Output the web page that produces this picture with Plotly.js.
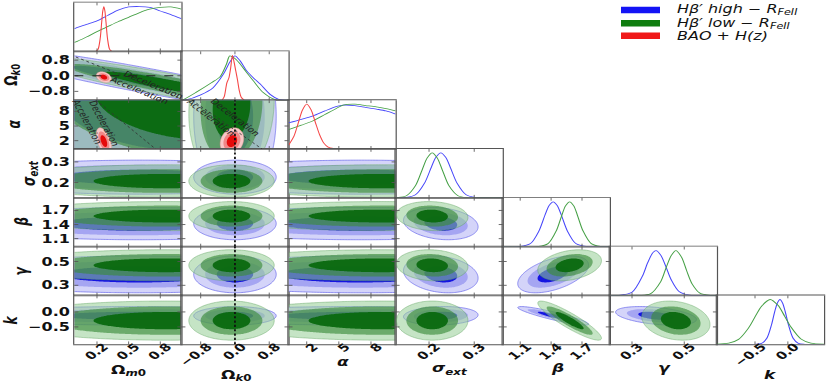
<!DOCTYPE html>
<html><head><meta charset="utf-8">
<script src="https://cdn.plot.ly/plotly-3.0.1.min.js"></script>
<style>
html,body{margin:0;padding:0;overflow:hidden;background:#fff;}
#plot{width:831px;height:531px;transform-origin:0 0;}
</style></head><body><div id="plot"></div>
<script>
// ---------------- data ----------------
const paramNames = ['Ω<sub><i>m</i>0</sub>', 'Ω<sub><i>k</i>0</sub>', '<i>α</i>', '<i>σ</i><sub><i>ext</i></sub>', '<i>β</i>', '<i>γ</i>', '<i>k</i>'];
const axisRanges = [[-0.015, 1.0], [-1.25, 1.25], [0.3, 10.3], [0.126, 0.363], [0.93, 1.97], [0.215, 0.625], [-1.08, 0.55]];
const tickVals = [[0.2, 0.5, 0.8], [-0.8, 0.0, 0.8], [2, 5, 8], [0.2, 0.3], [1.1, 1.4, 1.7], [0.3, 0.5], [-0.5, 0.0]];
const tickText = [['0.2', '0.5', '0.8'], ['−0.8', '0.0', '0.8'], ['2', '5', '8'], ['0.2', '0.3'], ['1.1', '1.4', '1.7'], ['0.3', '0.5'], ['−0.5', '0.0']];
const seriesNames = ['<i>Hβ′ high − R<sub>FeII</sub></i>', '<i>Hβ′ low − R<sub>FeII</sub></i>', '<i>BAO + H(z)</i>'];

// 1D marginals (normalised to peak = 1)
const om_x = [-0.015, 0, 0.1, 0.2, 0.3, 0.4, 0.5, 0.6, 0.7, 0.8, 0.9, 1.0];
const om_blue = [0.51, 0.52, 0.6, 0.68, 0.8, 0.92, 0.99, 1.0, 0.98, 0.9, 0.82, 0.73];
const om_green = [0.2, 0.21, 0.32, 0.44, 0.55, 0.66, 0.76, 0.86, 0.94, 0.98, 0.99, 0.94];
const om_red_x = [0.19, 0.21, 0.23, 0.245, 0.255, 0.265, 0.275, 0.285, 0.30, 0.32, 0.34];
const om_red = [0.003, 0.044, 0.28, 0.66, 0.9, 1.0, 0.9, 0.66, 0.28, 0.044, 0.003];

const ok_x_blue = [-1.25, -1.13, -0.8, -0.51, -0.27, -0.12, 0.0, 0.12, 0.27, 0.45, 0.59, 0.82, 1.02, 1.25];
const ok_blue = [0, 0.01, 0.12, 0.28, 0.58, 0.85, 0.99, 0.88, 0.66, 0.48, 0.36, 0.13, 0.02, 0];
const ok_x_green = [-1.25, -1.21, -0.9, -0.55, -0.35, -0.2, -0.12, 0.0, 0.12, 0.27, 0.43, 0.66, 0.94, 1.25];
const ok_green = [0, 0.01, 0.18, 0.39, 0.52, 0.8, 0.99, 0.93, 0.81, 0.62, 0.43, 0.17, 0.01, 0];
const ok_x_red = [-0.3, -0.25, -0.19, -0.14, -0.1, -0.06, -0.02, 0.02, 0.06, 0.1, 0.15, 0.22];
const ok_red = [0, 0.08, 0.38, 0.5, 0.72, 1.0, 0.85, 0.65, 0.45, 0.22, 0.06, 0];

const al_x = [0.3, 1.5, 2.6, 3.7, 4.8, 5.4, 6.5, 7.5, 8.5, 9.4, 10.3];
const al_blue = [0.58, 0.66, 0.74, 0.85, 0.95, 0.98, 0.97, 0.93, 0.89, 0.85, 0.78];
const al_green = [0.43, 0.53, 0.63, 0.77, 0.91, 0.98, 1.0, 0.97, 0.94, 0.9, 0.85];
const al_red_x = [0.3, 0.8, 1.2, 1.6, 2.0, 2.4, 2.8, 3.2, 3.6, 4.0, 4.5, 5.0];
const al_red = [0.08, 0.28, 0.57, 0.87, 1.0, 0.88, 0.6, 0.32, 0.13, 0.04, 0.01, 0];

const sg_x_blue = [0.126, 0.15, 0.17, 0.19, 0.205, 0.215, 0.226, 0.237, 0.247, 0.262, 0.282, 0.302, 0.33, 0.363];
const sg_blue = [0, 0.007, 0.066, 0.325, 0.68, 0.9, 1, 0.9, 0.68, 0.325, 0.066, 0.007, 0, 0];
const sg_x_green = [0.126, 0.13, 0.15, 0.17, 0.185, 0.196, 0.207, 0.218, 0.229, 0.244, 0.264, 0.284, 0.31, 0.363];
const sg_green = [0.001, 0.004, 0.046, 0.27, 0.63, 0.89, 1, 0.89, 0.63, 0.27, 0.046, 0.004, 0, 0];

const be_x_blue = [0.93, 1.1, 1.2, 1.28, 1.34, 1.38, 1.42, 1.46, 1.5, 1.56, 1.64, 1.74, 1.85, 1.97];
const be_blue = [0, 0.003, 0.068, 0.34, 0.70, 0.915, 1, 0.915, 0.70, 0.34, 0.068, 0.003, 0, 0];
const be_x_green = [0.93, 1.28, 1.37, 1.45, 1.5, 1.54, 1.58, 1.62, 1.66, 1.71, 1.79, 1.88, 1.97];
const be_green = [0, 0.004, 0.066, 0.35, 0.67, 0.91, 1, 0.91, 0.67, 0.35, 0.066, 0.004, 0];

const ga_x_blue = [0.215, 0.25, 0.3, 0.34, 0.36, 0.38, 0.392, 0.41, 0.43, 0.45, 0.48, 0.52, 0.56, 0.625];
const ga_blue = [0, 0.002, 0.071, 0.43, 0.73, 0.956, 1, 0.9, 0.64, 0.35, 0.089, 0.006, 0, 0];
const ga_x_green = [0.215, 0.33, 0.37, 0.41, 0.43, 0.45, 0.468, 0.49, 0.51, 0.53, 0.56, 0.6, 0.625];
const ga_green = [0, 0.001, 0.036, 0.31, 0.61, 0.89, 1, 0.85, 0.54, 0.26, 0.053, 0.002, 0];

const k_x_blue = [-1.08, -0.5, -0.4, -0.32, -0.25, -0.2, -0.16, -0.12, -0.08, -0.04, 0.01, 0.08, 0.16, 0.26, 0.55];
const k_blue = [0, 0, 0.02, 0.135, 0.43, 0.73, 0.92, 1, 0.92, 0.73, 0.43, 0.135, 0.02, 0, 0];
const k_x_green = [-1.08, -0.9, -0.75, -0.6, -0.5, -0.4, -0.27, -0.15, -0.05, 0.05, 0.2, 0.35, 0.55];
const k_green = [0.002, 0.024, 0.11, 0.36, 0.61, 0.85, 1, 0.87, 0.63, 0.38, 0.12, 0.026, 0.002];

// 2D posterior summaries (mean, spread) per parameter
const blueMean = [0.6, 0.0, 7.0, 0.226, 1.42, 0.392, -0.13];
const blueSigma = [0.5, 0.28, 5.0, 0.024, 0.1, 0.045, 0.09];
const greenMean = [0.85, -0.08, 9.0, 0.207, 1.58, 0.468, -0.29];
const greenSigma = [0.45, 0.29, 4.5, 0.023, 0.09, 0.038, 0.19];
const redMean = [0.265, -0.07, 1.9];
const redSigma = [0.021, 0.08, 0.8];
// correlations for parameter pairs
const corrPairs = ['1-2', '3-4', '3-5', '3-6', '4-5', '4-6', '5-6'];
const blueCorr = [0.0, -0.2, -0.2, 0.1, 0.5, -0.9, -0.4];
const greenCorr = [0.1, -0.1, -0.1, 0.0, 0.3, -0.9, -0.2];
const redPairs = ['0-1', '0-2', '1-2'];
const redCorr = [-0.3, -0.5, 0.2];
// pair-specific summaries [mx, my, sx, sy, rho] for the prior-bounded panels
const blueOmOk = [0.65, -0.23, 0.45, 0.488, -0.922];
const greenOmOk = [0.85, -0.43, 0.38, 0.416, -0.913];
const blueOmAl = [0.7, 8.0, 0.55, 5.2, -0.3];
const greenOmAl = [0.95, 9.0, 0.5, 4.5, -0.35];

// reference lines (q0 = 0 boundary, flat universe)
const decelOm_x = [0.0, 1.0], decelOm_y = [0.96, -1.18];
const decelOmAl_x = [0.19, 0.755], decelOmAl_y = [10.3, 0.3];
const decelOkAl_x = [-1.0, 0.63], decelOkAl_y = [10.3, 0.3];
const flatOk = 0.0;
// region labels [text, x, y]
const labelsOmOk = [['Deceleration', 0.74, -0.48], ['Acceleration', 0.6, -0.74]];
const labelsOmAl = [['Acceleration', 0.11, 5.9], ['Deceleration', 0.27, 5.6]];
const labelsOkAl = [['Acceleration', -0.55, 6.8], ['Deceleration', 0.02, 6.8]];

// ---------------- styling / layout ----------------
const SQUASH = 0.72;
const W = 831, H = 382;
const colEdges = [74.3, 181.4, 288.5, 395.6, 502.7, 609.8, 716.9, 824.0];
const rowEdges = [2.5, 51.3, 100.1, 148.8, 197.6, 246.4, 295.2, 344.0];
const xTitlePos = [[128, 370], [236, 375], [343, 362], [450, 369], [557, 367], [664, 367], [770, 374]];
const yTitlePos = [null, [12, 75], [14, 124], [30, 173], [22, 222], [21, 271], [11, 320]];
const LEVELS = [11.83, 6.18, 2.30];
const blueFill = ['rgb(212,212,249)', 'rgb(165,165,242)', 'rgb(20,20,225)'];
const greenFill = ['rgba(150,205,150,0.55)', 'rgba(60,140,60,0.65)', 'rgba(10,105,15,0.95)'];
const redFill = ['rgb(248,200,200)', 'rgb(240,135,135)', 'rgb(228,10,10)'];
const lineCols = ['rgb(70,70,250)', 'rgb(70,160,70)', 'rgb(245,70,70)'];
const frame = 'rgb(85,85,85)';
const FONT = 'DejaVu Sans';

const layout = {
  width: W, height: Math.round(H / SQUASH),
  margin: {l: 0, r: 0, t: 0, b: 0},
  paper_bgcolor: 'white', plot_bgcolor: 'white', showlegend: false,
  font: {family: FONT, color: '#111'},
  shapes: [], annotations: []
};
const traces = [];
const cell = {};
let n = 0;
const sfx = k => (k === 1 ? '' : String(k));
const xTickFont = {size: 14.5, color: '#111', family: FONT, weight: 'bold'};
const yTickFont = {size: 16, color: '#111', family: FONT, weight: 'bold'};
const titleFont = {size: 17, color: '#111', family: FONT, weight: 'bold'};

for (let r = 0; r < 7; r++) {
  for (let c = 0; c <= r; c++) {
    n++;
    cell[r + ',' + c] = n;
    const xa = {
      domain: [colEdges[c] / W, colEdges[c + 1] / W],
      range: axisRanges[c], anchor: 'y' + sfx(n),
      showgrid: false, zeroline: false, showline: true, mirror: 'allticks',
      linecolor: frame, linewidth: 1.2, ticks: 'inside', ticklen: 4, tickwidth: 1, tickcolor: frame,
      tickmode: 'array', tickvals: tickVals[c], ticktext: tickText[c],
      showticklabels: r === 6, tickangle: -45, tickfont: xTickFont,
      ticklabelstandoff: -12, ticklabelshift: 7,
      fixedrange: true
    };
    const diag = r === c;
    const ya = {
      domain: [1 - rowEdges[r + 1] / H, 1 - rowEdges[r] / H],
      range: diag ? [0, 1.09] : axisRanges[r], anchor: 'x' + sfx(n),
      showgrid: false, zeroline: false, showline: true, mirror: diag ? true : 'allticks',
      linecolor: frame, linewidth: 1.2, ticks: diag ? '' : 'inside', ticklen: 4, tickwidth: 1, tickcolor: frame,
      tickmode: 'array', tickvals: diag ? [] : tickVals[r], ticktext: diag ? [] : tickText[r],
      showticklabels: !diag && c === 0, tickfont: yTickFont,
      fixedrange: true
    };
    layout['xaxis' + sfx(n)] = xa;
    layout['yaxis' + sfx(n)] = ya;
  }
}
// axis titles
paramNames.forEach((t, i) => {
  layout.annotations.push({text: t, xref: 'paper', yref: 'paper',
    x: xTitlePos[i][0] / W, y: 1 - xTitlePos[i][1] / H, xanchor: 'center', yanchor: 'middle',
    showarrow: false, font: titleFont});
  if (yTitlePos[i]) layout.annotations.push({text: t, xref: 'paper', yref: 'paper',
    x: yTitlePos[i][0] / W, y: 1 - yTitlePos[i][1] / H, xanchor: 'center', yanchor: 'middle',
    textangle: -90, showarrow: false, font: titleFont});
});

function lookup(keys, vals, i, j) {
  const k = keys.indexOf(Math.min(i, j) + '-' + Math.max(i, j));
  return k < 0 ? 0 : vals[k];
}
function chiGrid(xr, yr, p, N) {
  const [mx, my, sx, sy, rho] = p;
  const xs = [], ys = [];
  for (let i = 0; i < N; i++) {
    xs.push(xr[0] + (xr[1] - xr[0]) * i / (N - 1));
    ys.push(yr[0] + (yr[1] - yr[0]) * i / (N - 1));
  }
  const z = ys.map(y => xs.map(x => {
    const dx = (x - mx) / sx, dy = (y - my) / sy;
    return (dx * dx - 2 * rho * dx * dy + dy * dy) / (1 - rho * rho);
  }));
  return {xs, ys, z};
}
// Plotly shades the region that violates the constraint, so "z > level" shades z < level
function addContours(g, ax, ay, fills, outline, outlineW) {
  for (let l = 0; l < 3; l++) {
    traces.push({
      type: 'contour', x: g.xs, y: g.ys, z: g.z, xaxis: ax, yaxis: ay,
      contours: {type: 'constraint', operation: '>', value: LEVELS[l]},
      fillcolor: fills[l],
      line: {width: l === 0 ? outlineW : 0, color: outline, smoothing: 1},
      showscale: false, hoverinfo: 'skip', showlegend: false
    });
  }
}

// 2D panels
for (let r = 1; r < 7; r++) {
  for (let c = 0; c < r; c++) {
    const k = cell[r + ',' + c];
    const ax = 'x' + sfx(k), ay = 'y' + sfx(k);
    let pb, pg;
    if (c === 0 && r === 1) { pb = blueOmOk; pg = greenOmOk; }
    else if (c === 0 && r === 2) { pb = blueOmAl; pg = greenOmAl; }
    else {
      pb = [blueMean[c], blueMean[r], blueSigma[c], blueSigma[r], lookup(corrPairs, blueCorr, c, r)];
      pg = [greenMean[c], greenMean[r], greenSigma[c], greenSigma[r], lookup(corrPairs, greenCorr, c, r)];
    }
    addContours(chiGrid(axisRanges[c], axisRanges[r], pb, 70), ax, ay, blueFill, 'rgb(100,100,235)', 0.8);
    addContours(chiGrid(axisRanges[c], axisRanges[r], pg, 70), ax, ay, greenFill, 'rgba(90,160,90,0.8)', 0.6);
    if (r <= 2) {
      const pr = [redMean[c], redMean[r], redSigma[c], redSigma[r], lookup(redPairs, redCorr, c, r)];
      const xr = [Math.max(axisRanges[c][0], pr[0] - 4.2 * pr[2]), Math.min(axisRanges[c][1], pr[0] + 4.2 * pr[2])];
      const yr = [Math.max(axisRanges[r][0], pr[1] - 4.2 * pr[3]), Math.min(axisRanges[r][1], pr[1] + 4.2 * pr[3])];
      addContours(chiGrid(xr, yr, pr, 60), ax, ay, redFill, 'rgb(235,150,150)', 0.5);
    }
  }
}

// 1D panels
const oneD = [
  [[om_x, om_blue], [om_x, om_green], [om_red_x, om_red]],
  [[ok_x_blue, ok_blue], [ok_x_green, ok_green], [ok_x_red, ok_red]],
  [[al_x, al_blue], [al_x, al_green], [al_red_x, al_red]],
  [[sg_x_blue, sg_blue], [sg_x_green, sg_green]],
  [[be_x_blue, be_blue], [be_x_green, be_green]],
  [[ga_x_blue, ga_blue], [ga_x_green, ga_green]],
  [[k_x_blue, k_blue], [k_x_green, k_green]]
];
oneD.forEach((curves, i) => {
  const k = cell[i + ',' + i];
  curves.forEach((cv, s) => {
    traces.push({
      type: 'scatter', mode: 'lines', x: cv[0], y: cv[1],
      xaxis: 'x' + sfx(k), yaxis: 'y' + sfx(k),
      line: {color: lineCols[s], width: 1.1, shape: 'spline', smoothing: 0.8},
      hoverinfo: 'skip', showlegend: false
    });
  });
});

// reference lines
const k21 = cell['1,0'], k31 = cell['2,0'], k32 = cell['2,1'];
layout.shapes.push({type: 'line', xref: 'x' + sfx(k21), yref: 'y' + sfx(k21),
  x0: axisRanges[0][0], x1: axisRanges[0][1], y0: flatOk, y1: flatOk,
  line: {color: '#222', width: 1.3, dash: 'dash'}, layer: 'above'});
layout.shapes.push({type: 'line', xref: 'x' + sfx(k21), yref: 'y' + sfx(k21),
  x0: decelOm_x[0], x1: decelOm_x[1], y0: decelOm_y[0], y1: decelOm_y[1],
  line: {color: '#333', width: 1, dash: 'dot'}, layer: 'above'});
layout.shapes.push({type: 'line', xref: 'x' + sfx(k31), yref: 'y' + sfx(k31),
  x0: decelOmAl_x[0], x1: decelOmAl_x[1], y0: decelOmAl_y[0], y1: decelOmAl_y[1],
  line: {color: '#333', width: 1, dash: 'dot'}, layer: 'above'});
layout.shapes.push({type: 'line', xref: 'x' + sfx(k32), yref: 'y' + sfx(k32),
  x0: decelOkAl_x[0], x1: decelOkAl_x[1], y0: decelOkAl_y[0], y1: decelOkAl_y[1],
  line: {color: '#333', width: 1, dash: 'dot'}, layer: 'above'});
for (let r = 2; r < 7; r++) {
  const k = cell[r + ',1'];
  layout.shapes.push({type: 'line', xref: 'x' + sfx(k), yref: 'y' + sfx(k) + ' domain',
    x0: flatOk, x1: flatOk, y0: 0, y1: 1,
    line: {color: '#111', width: 1.8, dash: 'dot'}, layer: 'above'});
}
function addLabels(list, k, angle) {
  list.forEach(l => layout.annotations.push({
    text: l[0], x: l[1], y: l[2], xref: 'x' + sfx(k), yref: 'y' + sfx(k),
    showarrow: false, textangle: angle, font: {size: 10.5, family: FONT, color: '#222'}
  }));
}
addLabels(labelsOmOk, k21, 30);
addLabels(labelsOmAl, k31, 69);
addLabels(labelsOkAl, k32, 47);

// legend
const legendY = [10, 23.3, 35.7];
const legendFill = ['rgb(20,20,245)', 'rgb(15,125,15)', 'rgb(240,25,25)'];
legendY.forEach((y, i) => {
  layout.shapes.push({type: 'rect', xref: 'paper', yref: 'paper',
    x0: 621 / W, x1: 660 / W, y0: 1 - (y + 3.3) / H, y1: 1 - (y - 3.3) / H,
    fillcolor: legendFill[i], line: {width: 0}, layer: 'above'});
  layout.annotations.push({text: seriesNames[i], xref: 'paper', yref: 'paper',
    x: 675 / W, y: 1 - y / H, xanchor: 'left', yanchor: 'middle', showarrow: false,
    font: {size: 16, family: FONT, color: '#111'}});
});

const gd = document.getElementById('plot');
Plotly.newPlot(gd, traces, layout, {staticPlot: true, displayModeBar: false}).then(() => {
  gd.style.transform = 'scaleY(' + SQUASH + ')';
});
</script></body></html>
